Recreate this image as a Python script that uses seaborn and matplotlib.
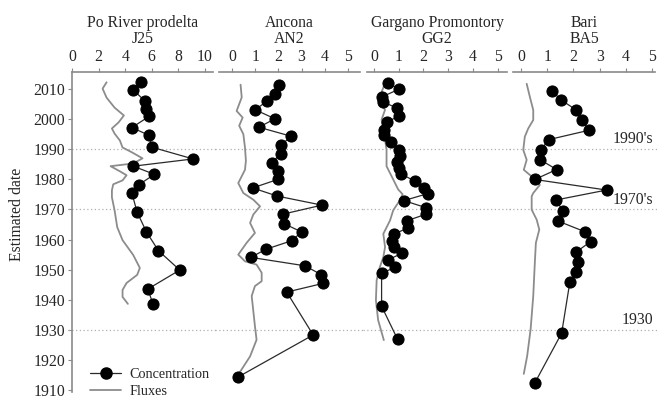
import matplotlib
matplotlib.use('Agg')
import matplotlib.pyplot as plt
from matplotlib.lines import Line2D
import seaborn as sns

sns.set_style("white")
plt.rcParams['font.family'] = ['Liberation Serif', 'DejaVu Serif']

# Po River prodelta - J25
j25_years = [2012.2, 2009.6, 2005.8, 2003.4, 2000.8, 1997.1, 1994.5, 1990.6, 1986.7, 1984.3,
             1981.6, 1978.1, 1975.4, 1969.0, 1962.5, 1956.3, 1949.9, 1943.6, 1938.5]
j25_conc = [5.2, 4.6, 5.5, 5.6, 5.8, 4.5, 5.8, 6.0, 9.1, 4.6,
            6.2, 5.0, 4.5, 4.9, 5.6, 6.5, 8.1, 5.7, 6.1]
j25_flux_years = [2012.1, 2010.0, 2007.0, 2003.7, 2001.1, 1998.8, 1996.8, 1995.1, 1992.8, 1990.5,
                  1988.9, 1986.9, 1985.2, 1984.3, 1982.6, 1981.3, 1979.6, 1978.3, 1976.3, 1974.0,
                  1969.7, 1964.1, 1959.8, 1954.9, 1950.6, 1948.3, 1945.6, 1943.3, 1941.0, 1938.7]
j25_flux = [2.6, 2.3, 2.6, 3.2, 3.9, 3.5, 3.0, 3.2, 3.6, 3.8,
            4.5, 5.3, 4.6, 2.9, 3.6, 4.1, 3.8, 3.1, 3.0, 3.0,
            3.2, 3.4, 3.8, 4.6, 5.1, 4.9, 4.1, 3.8, 3.8, 4.2]

# Ancona - AN2
an2_years = [2011.3, 2008.3, 2005.8, 2003.0, 2000.0, 1997.2, 1994.2, 1991.3, 1988.4, 1985.5,
             1982.7, 1979.9, 1977.1, 1974.4, 1971.4, 1968.4, 1965.3, 1962.5, 1959.6, 1956.8,
             1954.1, 1951.3, 1948.4, 1945.5, 1942.6, 1928.4, 1914.5]
an2_conc = [2.03, 1.87, 1.50, 1.00, 1.85, 1.16, 2.56, 2.11, 2.11, 1.71,
            1.97, 1.97, 0.89, 1.95, 3.88, 2.19, 2.24, 3.00, 2.57, 1.47,
            0.81, 3.15, 3.84, 3.94, 2.36, 3.50, 0.27]
an2_flux_years = [2011.3, 2007.1, 2002.6, 2000.4, 1997.7, 1994.9, 1990.5, 1986.1, 1983.1, 1978.7,
                  1975.4, 1973.2, 1971.0, 1968.3, 1965.5, 1962.2, 1958.9, 1955.0, 1952.8, 1951.7,
                  1949.0, 1946.2, 1944.6, 1941.3, 1931.3, 1926.8, 1921.3, 1913.6]
an2_flux = [0.37, 0.42, 0.20, 0.46, 0.31, 0.49, 0.56, 0.60, 0.56, 0.27,
            0.49, 0.92, 1.21, 0.92, 0.78, 0.99, 0.63, 0.27, 0.56, 1.06,
            1.28, 1.28, 0.99, 0.85, 0.99, 1.06, 0.78, 0.13]

# Gargano Promontory - GG2
gg2_years = [2012.0, 2009.8, 2007.2, 2005.7, 2003.5, 2001.0, 1998.8, 1996.4, 1994.7, 1992.2,
             1989.8, 1987.8, 1985.6, 1983.7, 1981.8, 1979.3, 1977.1, 1975.2, 1972.9, 1970.6,
             1968.4, 1966.2, 1963.8, 1961.8, 1959.6, 1957.4, 1955.4, 1953.2, 1950.8, 1948.8,
             1937.9, 1926.9]
gg2_conc = [0.55, 1.01, 0.31, 0.35, 0.94, 1.02, 0.51, 0.40, 0.40, 0.68,
            1.02, 1.05, 0.92, 1.02, 1.09, 1.66, 2.04, 2.17, 1.21, 2.09,
            2.11, 1.32, 1.36, 0.81, 0.72, 0.82, 1.12, 0.55, 0.85, 0.31,
            0.31, 0.96]
gg2_flux_years = [2011.8, 2007.4, 2005.8, 2003.0, 1999.7, 1996.4, 1993.1, 1989.8, 1984.3, 1979.9,
                  1976.6, 1975.0, 1973.0, 1969.7, 1966.3, 1961.9, 1957.5, 1954.2, 1950.9, 1946.5,
                  1939.9, 1933.3, 1926.7]
gg2_flux = [0.45, 0.24, 0.17, 0.45, 0.31, 0.38, 0.45, 0.51, 0.51, 0.78,
            0.98, 1.16, 1.05, 0.78, 0.65, 0.38, 0.45, 0.38, 0.24, 0.11,
            0.08, 0.17, 0.40]

# Bari - BA5
ba5_years = [2009.3, 2006.3, 2003.0, 1999.5, 1996.2, 1993.1, 1989.7, 1986.5, 1983.2, 1979.9,
             1976.4, 1973.1, 1969.4, 1966.1, 1962.6, 1959.3, 1955.8, 1952.5, 1949.1, 1945.8,
             1929.0, 1912.5]
ba5_conc = [1.17, 1.52, 2.09, 2.31, 2.59, 1.06, 0.76, 0.72, 1.36, 0.53,
            3.26, 1.33, 1.61, 1.42, 2.43, 2.65, 2.09, 2.18, 2.09, 1.86,
            1.55, 0.53]
ba5_flux_years = [2011.6, 2007.3, 2002.9, 1999.6, 1996.8, 1994.1, 1989.7, 1986.4, 1983.1, 1980.9,
                  1978.1, 1975.4, 1974.3, 1969.9, 1966.6, 1963.3, 1958.9, 1952.3, 1941.3, 1930.3,
                  1921.5, 1915.5]
ba5_flux = [0.22, 0.34, 0.47, 0.47, 0.28, 0.15, 0.09, 0.22, 0.11, 0.41,
            0.72, 0.47, 0.41, 0.41, 0.60, 0.70, 0.57, 0.53, 0.47, 0.37,
            0.24, 0.11]

titles = ["Po River prodelta\nJ25", "Ancona\nAN2", "Gargano Promontory\nGG2", "Bari\nBA5"]
x_ticks = [[0, 2, 4, 6, 8, 10], [0, 1, 2, 3, 4, 5], [0, 1, 2, 3, 4, 5], [0, 1, 2, 3, 4, 5]]
x_lims = [(0, 10.6), (-0.56, 5.52), (-0.28, 5.38), (-0.30, 5.10)]
event_years = [1990, 1970, 1930]
event_labels = ["1990's", "1970's", "1930"]

panels = [(j25_years, j25_conc, j25_flux_years, j25_flux),
          (an2_years, an2_conc, an2_flux_years, an2_flux),
          (gg2_years, gg2_conc, gg2_flux_years, gg2_flux),
          (ba5_years, ba5_conc, ba5_flux_years, ba5_flux)]

W, H = 659, 400
left_px = [72, 219, 367, 513]
width_px = [141, 141, 140, 142]
top_px, bottom_px = 72, 392
spine_col = '#8a8a8a'

fig = plt.figure(figsize=(W / 100, H / 100), dpi=100)
axes = []
for i, (yrs, conc, fyrs, flux) in enumerate(panels):
    ax = fig.add_axes([left_px[i] / W, 1 - bottom_px / H, width_px[i] / W, (bottom_px - top_px) / H])
    axes.append(ax)

    for ey in event_years:
        ax.axhline(ey, xmin=-0.03, xmax=1.03, color='#b0b0b0', lw=0.9, ls=(0, (1, 2)),
                   clip_on=False, zorder=1)

    sns.lineplot(x=flux, y=fyrs, orient='y', estimator=None, color='#8c8c8c', lw=1.3,
                 ax=ax, zorder=2)
    sns.lineplot(x=conc, y=yrs, orient='y', estimator=None, color='#2a2a2a', lw=0.9,
                 marker='o', markersize=8, markeredgecolor='black', markerfacecolor='black',
                 ax=ax, zorder=3)

    ax.set_xlim(*x_lims[i])
    ax.set_ylim(1909.5, 2015.5)
    ax.set_xticks(x_ticks[i])
    ax.xaxis.tick_top()
    ax.tick_params(axis='x', direction='out', length=3, width=0.8, color=spine_col,
                   labelsize=11.3, pad=2)
    ax.set_xlabel('')
    ax.set_ylabel('')
    ax.set_title(titles[i], fontsize=11.3, pad=4, linespacing=1.0)
    for side in ['bottom', 'right', 'left']:
        ax.spines[side].set_visible(False)
    ax.spines['top'].set_color(spine_col)
    ax.spines['top'].set_linewidth(1.2)
    ax.set_facecolor('none')
    if i == 0:
        ax.spines['left'].set_visible(True)
        ax.spines['left'].set_color(spine_col)
        ax.spines['left'].set_linewidth(1.2)
        ax.set_yticks(range(1910, 2011, 10))
        ax.tick_params(axis='y', direction='out', length=3, width=0.8, color=spine_col,
                       labelsize=11.3, pad=2, left=True)
        ax.set_ylabel("Estimated date", fontsize=11.3)
        ax.yaxis.set_label_coords(-0.33, 0.555)
    else:
        ax.set_yticks([])

for ey, lab in zip(event_years, event_labels):
    axes[3].text(0.985, ey + 0.6, lab, transform=axes[3].get_yaxis_transform(),
                 ha='right', va='bottom', fontsize=11.3)

handles = [Line2D([], [], color='#2a2a2a', lw=0.9, marker='o', markersize=8,
                  markerfacecolor='black', markeredgecolor='black'),
           Line2D([], [], color='#8c8c8c', lw=1.3)]
axes[0].legend(handles, ["Concentration", "Fluxes"], loc='lower left',
               bbox_to_anchor=(0.035, -0.058), frameon=False, fontsize=10.3,
               handlelength=2.2, handletextpad=0.6, labelspacing=0.25)

fig.savefig("out.png", dpi=100)
